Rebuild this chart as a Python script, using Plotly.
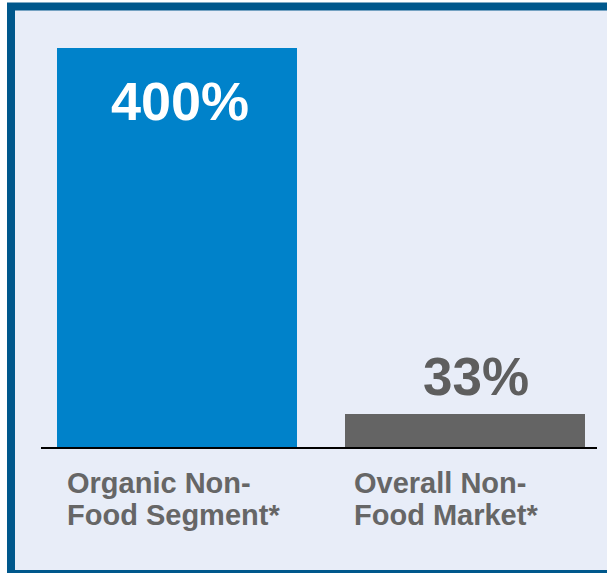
import plotly.graph_objects as go

categories = ["Organic Non-<br>Food Segment*", "Overall Non-<br>Food Market*"]
values = [400, 33]
value_labels = ["400%", "33%"]
bar_colors = ["#0082CA", "#646464"]

W, H = 607, 573
ML, MR, MT, MB = 41, 10, 40, 126
PW, PH = W - ML - MR, H - MT - MB

def px_x(p):
    return (p - ML) / PW

def px_y(p):
    return (H - MB - p) / PH

xpos = list(range(len(values)))
bar_w = 240 / 288

fig = go.Figure()
fig.add_trace(go.Bar(
    x=xpos, y=values, width=bar_w,
    marker=dict(color=bar_colors, line=dict(width=0)),
    hoverinfo="skip",
))

FONT = "Liberation Sans, Arial, sans-serif"
# value labels
fig.add_annotation(x=xpos[0], y=values[0], xref="x", yref="y", text="<b>%s</b>" % value_labels[0],
                   showarrow=False, xanchor="center", yanchor="middle", xshift=3, yshift=-53.5,
                   font=dict(family=FONT, size=54, color="white"))
fig.add_annotation(x=xpos[1], y=values[1], xref="x", yref="y", text="<b>%s</b>" % value_labels[1],
                   showarrow=False, xanchor="center", yanchor="middle", xshift=11, yshift=37.5,
                   font=dict(family=FONT, size=53, color="#5E5E5E"))
# category labels (one annotation per line for tight line spacing)
for i, (c, sh) in enumerate(zip(categories, [8, 7])):
    for j, line in enumerate(c.split("<br>")):
        fig.add_annotation(x=xpos[i] - bar_w / 2, y=0, xref="x", yref="y", text="<b>%s</b>" % line,
                           showarrow=False, xanchor="left", yanchor="top", align="left",
                           xshift=sh, yshift=-17.5 - 32.5 * j,
                           font=dict(family=FONT, size=29, color="#666666"))

fig.add_shape(type="rect", xref="paper", yref="paper",
              x0=px_x(11), x1=px_x(640), y0=px_y(574), y1=px_y(6.5),
              fillcolor="#E8EDF8", line=dict(color="#00588C", width=8), layer="below")

fig.update_layout(
    width=W, height=H,
    margin=dict(l=ML, r=MR, t=MT, b=MB, pad=0),
    paper_bgcolor="white", plot_bgcolor="rgba(0,0,0,0)",
    showlegend=False,
    bargap=0,
    xaxis=dict(range=[-0.472, 1.458], showticklabels=False, showgrid=False, zeroline=False,
               showline=True, linecolor="black", linewidth=2, ticks=""),
    yaxis=dict(range=[0, 408], visible=False, showgrid=False, zeroline=False),
)

fig.write_html("out.html", config={"displayModeBar": False},
               post_script="document.body.style.margin='0';document.body.style.overflow='hidden';")
